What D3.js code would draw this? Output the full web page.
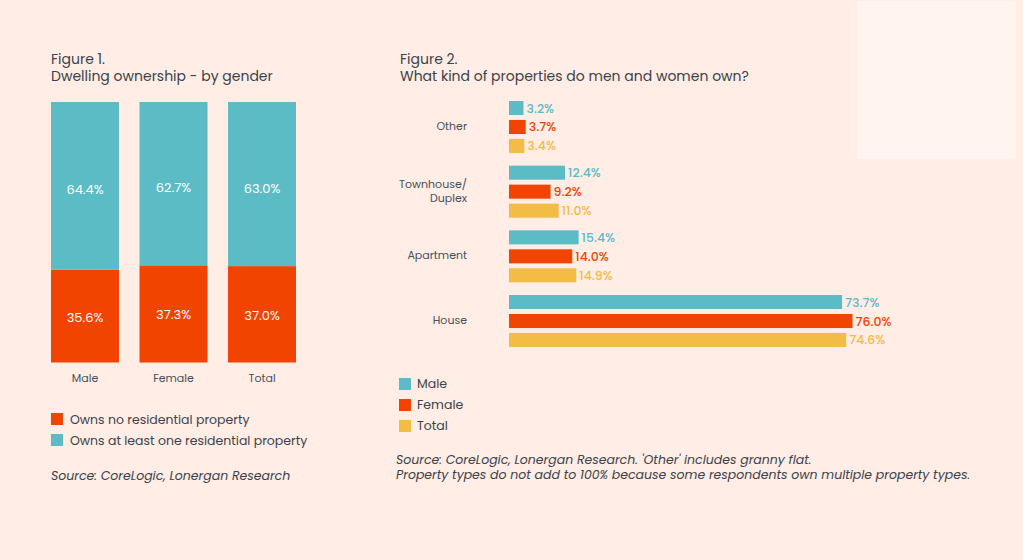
<!DOCTYPE html>
<html><head><meta charset="utf-8">
<script src="https://cdn.jsdelivr.net/npm/d3@7"></script>
<style>
html,body{margin:0;padding:0;background:#ffede6;}
svg text{font-family:Poppins,Inter,"Noto Sans",sans-serif;}
</style></head>
<body><svg id="c" width="1023" height="560"></svg>
<script>
// Figure 1 data
const genders = ["Male", "Female", "Total"];
const ownsNone = [35.6, 37.3, 37.0];
const ownsAtLeastOne = [64.4, 62.7, 63.0];
const fig1Legend = ["Owns no residential property", "Owns at least one residential property"];

// Figure 2 data
const propertyTypes = ["Other", "Townhouse/\nDuplex", "Apartment", "House"];
const series = ["Male", "Female", "Total"];
const maleVals = [3.2, 12.4, 15.4, 73.7];
const femaleVals = [3.7, 9.2, 14.0, 76.0];
const totalVals = [3.4, 11.0, 14.9, 74.6];

const TEAL = "#5bbcc6", ORANGE = "#f04400", YELLOW = "#f2bc45", TXT = "#3b424c";

const svg = d3.select("#c");
svg.append("rect").attr("x",0).attr("y",0).attr("width",1023).attr("height",560).attr("fill","#ffede6");
svg.append("rect").attr("x",857).attr("y",1).attr("width",159).attr("height",158).attr("fill","#fff4f0");

function twoLine(g, x, y, l1, l2, size, gap){
  const t = g.append("text").attr("x",x).attr("y",y).attr("font-size",size).attr("fill",TXT);
  t.append("tspan").attr("x",x).text(l1);
  t.append("tspan").attr("x",x).attr("dy",gap).text(l2);
  return t;
}

// ---------- Figure 1 ----------
const g1 = svg.append("g");
twoLine(g1, 51, 64, "Figure 1.", "Dwelling ownership - by gender", 14, 17);

const x1 = d3.scaleBand().domain(genders).range([51,296]).paddingInner(0.232).paddingOuter(0);
const y1 = d3.scaleLinear().domain([0,100]).range([362.5,102]);

genders.forEach((gname,i)=>{
  const a = ownsNone[i], b = ownsAtLeastOne[i];
  g1.append("rect").attr("x",x1(gname)).attr("width",x1.bandwidth())
    .attr("y",y1(a)).attr("height",y1(0)-y1(a)).attr("fill",ORANGE);
  g1.append("rect").attr("x",x1(gname)).attr("width",x1.bandwidth())
    .attr("y",y1(a+b)).attr("height",y1(a)-y1(a+b)).attr("fill",TEAL);
  const cx = x1(gname)+x1.bandwidth()/2;
  g1.append("text").attr("x",cx).attr("y",(y1(a)+y1(0))/2+1).attr("dy","0.35em")
    .attr("text-anchor","middle").attr("font-size",13).attr("fill","#fff").text(a.toFixed(1)+"%");
  g1.append("text").attr("x",cx).attr("y",(y1(a)+y1(a+b))/2+4).attr("dy","0.35em")
    .attr("text-anchor","middle").attr("font-size",13).attr("fill","#fff").text(b.toFixed(1)+"%");
});
const ax1 = g1.append("g").attr("transform","translate(0,362)")
  .call(d3.axisBottom(x1).tickSize(0).tickPadding(12));
ax1.select(".domain").remove();
ax1.selectAll("text").attr("font-size",11).attr("fill","#4a505a").style("font-family","Poppins,Inter,'Noto Sans',sans-serif");

[ORANGE, TEAL].forEach((c,i)=>{
  g1.append("rect").attr("x",51).attr("y",413+i*21).attr("width",12).attr("height",12).attr("fill",c);
  g1.append("text").attr("x",70).attr("y",424+i*21).attr("font-size",12.5).attr("fill",TXT).text(fig1Legend[i]);
});
g1.append("text").attr("x",51).attr("y",480).attr("font-size",12.5).attr("font-style","italic").attr("fill",TXT)
  .text("Source: CoreLogic, Lonergan Research");

// ---------- Figure 2 ----------
const g2 = svg.append("g");
twoLine(g2, 400, 64, "Figure 2.", "What kind of properties do men and women own?", 14, 17);

const yCat = d3.scaleBand().domain(propertyTypes).range([101,347]).paddingInner(0.196).paddingOuter(0);
const ySer = d3.scaleBand().domain(series).range([0,yCat.bandwidth()]).paddingInner(0.26);
const x2 = d3.scaleLinear().domain([0,100]).range([509,961]);
const colors = d3.scaleOrdinal().domain(series).range([TEAL, ORANGE, YELLOW]);
const valsBy = {Male: maleVals, Female: femaleVals, Total: totalVals};

propertyTypes.forEach((cat,i)=>{
  const gy = yCat(cat);
  series.forEach(s=>{
    const v = valsBy[s][i];
    g2.append("rect").attr("x",x2(0)).attr("y",gy+ySer(s)).attr("width",x2(v)-x2(0))
      .attr("height",ySer.bandwidth()).attr("fill",colors(s));
    g2.append("text").attr("x",x2(v)+3).attr("y",gy+ySer(s)+ySer.bandwidth()/2).attr("dy","0.36em")
      .attr("font-size",12.5).attr("font-weight",500).attr("fill",colors(s)).text(v.toFixed(1)+"%");
  });
  const lines = cat.split("\n");
  const t = g2.append("text").attr("x",467).attr("y",gy+yCat.bandwidth()/2 - 1).attr("text-anchor","end")
    .attr("font-size",11).attr("fill","#4a505a");
  lines.forEach((ln,j)=>{
    t.append("tspan").attr("x",467).attr("dy", j===0 ? (0.35-(lines.length-1)*0.6)+"em" : "1.25em").text(ln);
  });
});

series.forEach((s,i)=>{
  g2.append("rect").attr("x",399).attr("y",378+i*21).attr("width",12).attr("height",12).attr("fill",colors(s));
  g2.append("text").attr("x",417).attr("y",388+i*21).attr("font-size",12.5).attr("fill",TXT).text(s);
});
const src2 = twoLine(g2, 396, 464, "Source: CoreLogic, Lonergan Research. 'Other' includes granny flat.",
  "Property types do not add to 100% because some respondents own multiple property types.", 12.5, 15);
src2.attr("font-style","italic");
</script></body></html>
